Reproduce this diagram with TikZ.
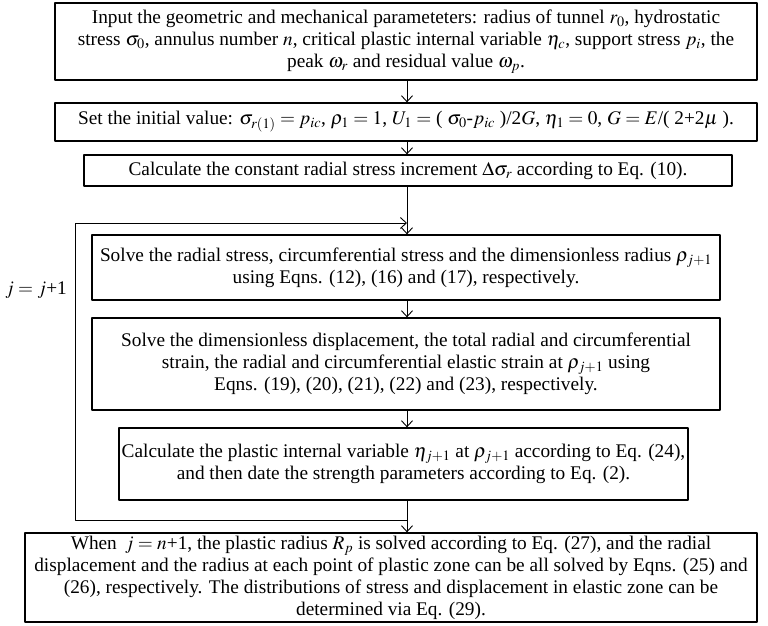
\documentclass[tikz,border=0pt]{standalone}
\usepackage{mathptmx}
\usepackage{fontspec}
\setmainfont{Liberation Serif}
\usetikzlibrary{arrows.meta}
\tikzset{
  stepbox/.style={draw, line width=1.3pt, align=center, inner sep=1pt,
    font=\fontsize{19.3}{22}\selectfont},
  flow/.style={line width=0.9pt}
}
\begin{document}
\begin{tikzpicture}[x=1pt, y=-1pt, line join=round, >={Straight Barb[length=6pt,width=11pt]}]
	\useasboundingbox (0,0) rectangle (768,626);
	\node[stepbox, minimum width=702, minimum height=77] (input) at (406,41.5)
		{Input the geometric and mechanical parameteters: radius of tunnel $r_0$, hydrostatic\\
		 stress $\sigma_0$, annulus number $n$, critical plastic internal variable $\eta_c$, support stress $p_i$, the\\
		 peak $\omega_r$ and residual value $\omega_p$.};
	\node[stepbox, minimum width=702, minimum height=38] (init) at (406,122)
		{Set the initial value: $\sigma_{r(1)} = p_{ic}$, $\rho_1 = 1$, $U_1 =$ ( $\sigma_0$-$p_{ic}$ )/2$G$, $\eta_1 = 0$, $G = E$/( 2+2$\mu$ ).};
	\node[stepbox, minimum width=648, minimum height=31] (incr) at (408,170.5)
		{Calculate the constant radial stress increment $\Delta\sigma_r$ according to Eq. (10).};
	\node[stepbox, minimum width=628, minimum height=65] (radial) at (406,267.5)
		{Solve the radial stress, circumferential stress and the dimensionless radius $\rho_{j+1}$\\
		 using Eqns. (12), (16) and (17), respectively.};
	\node[stepbox, minimum width=628, minimum height=92] (strain) at (406,364)
		{Solve the dimensionless displacement, the total radial and circumferential\\
		 strain, the radial and circumferential elastic strain at $\rho_{j+1}$ using\\
		 Eqns. (19), (20), (21), (22) and (23), respectively.};
	\node[stepbox, minimum width=569, minimum height=72] (plastic) at (403.5,464)
		{Calculate the plastic internal variable $\eta_{j+1}$ at $\rho_{j+1}$ according to Eq. (24),\\
		 and then date the strength parameters according to Eq. (2).};
	\node[stepbox, minimum width=732, minimum height=89] (result) at (391,577.5)
		{When\, $j = n$+1, the plastic radius $R_p$ is solved according to Eq. (27), and the radial\\
		 displacement and the radius at each point of plastic zone can be all solved by Eqns. (25) and\\
		 (26), respectively. The distributions of stress and displacement in elastic zone can be\\
		 determined via Eq. (29).};
	\node[font=\fontsize{19.3}{22}\selectfont] (counter) at (36,290) {$j = j$+1};
	\path
		(407,223) coordinate (loopin)
		(407,520) coordinate (loopout)
		(75,223) coordinate (jtop)
		(75,520) coordinate (jback)
	;
	\draw[flow,->] (input.south -| 407,0) -- (init.north -| 407,0);
	\draw[flow,->] (init.south -| 407,0) -- (incr.north -| 407,0);
	\draw[flow] (incr.south -| loopin) -- (loopin);
	\draw[flow,->] (loopin) -- (radial.north -| loopin);
	\draw[flow,->] (radial.south -| loopin) -- (strain.north -| loopin);
	\draw[flow,->] (strain.south -| loopin) -- (plastic.north -| loopin);
	\draw[flow] (plastic.south -| loopout) -- (loopout);
	\draw[flow,->] (loopout) -- (result.north -| loopout);
	\draw[flow,->] (loopout) -- (jback) -- (jtop) -- (loopin);
\end{tikzpicture}
\end{document}
